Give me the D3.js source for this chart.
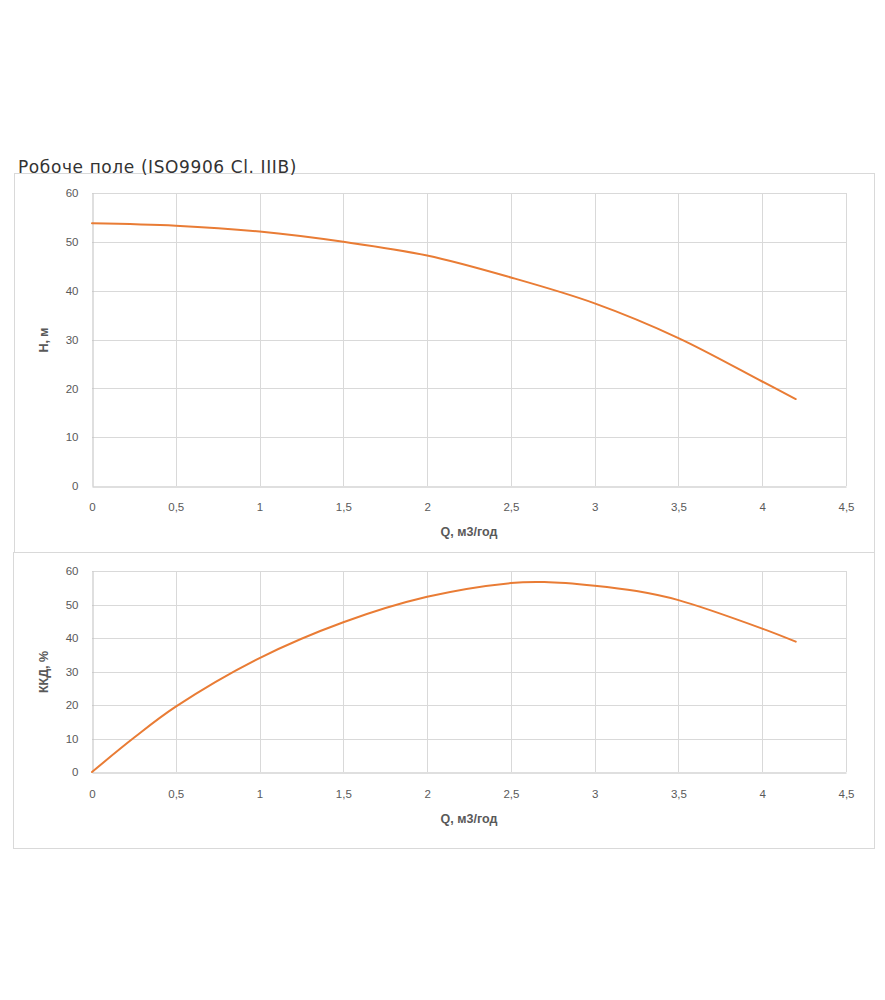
<!DOCTYPE html>
<html>
<head>
<meta charset="utf-8">
<script src="https://cdn.jsdelivr.net/npm/d3@7"></script>
<style>
  body { margin: 0; background: #fff; }
  .tick text { font-family: "Liberation Sans Narrow", "Liberation Sans", Arial, sans-serif; font-size: 11.5px; fill: #595959; }
  .axis-label { font-family: "Liberation Sans Narrow", "Liberation Sans", Arial, sans-serif; font-size: 12.5px; font-weight: bold; fill: #595959; }
</style>
</head>
<body>
<div id="chart-area"></div>
<script>
// head curve H(Q)
var flowH = [0, 0.5, 1, 1.5, 2, 2.5, 3, 3.5, 4, 4.2];
var head = [53.8, 53.3, 52.1, 50.0, 47.2, 42.7, 37.4, 30.3, 21.4, 17.8];

// efficiency curve
var flowE = [0, 0.25, 0.5, 1, 1.5, 2, 2.5, 2.7, 3, 3.25, 3.5, 4, 4.2];
var eff = [0, 10.2, 19.5, 34.0, 44.7, 52.3, 56.4, 56.7, 55.6, 54.0, 51.3, 42.8, 38.9];

var xTicks = [0, 0.5, 1, 1.5, 2, 2.5, 3, 3.5, 4, 4.5];
var yTicks = [0, 10, 20, 30, 40, 50, 60];

var title = "Робоче поле (ISO9906 Cl. IIIB)";
var xTitle = "Q, м3/год";

var svg = d3.select("#chart-area")
    .append("svg")
    .attr("width", 885)
    .attr("height", 1000);

var fmt = function(d) { return String(d).replace(".", ","); };

function drawPanel(opts) {
    // outer frame
    svg.append("rect")
        .attr("x", opts.frame[0] + 0.5)
        .attr("y", opts.frame[1] + 0.5)
        .attr("width", opts.frame[2])
        .attr("height", opts.frame[3])
        .attr("fill", "none")
        .attr("stroke", "#d9d9d9");

    var x = d3.scaleLinear().domain([0, 4.5]).range([opts.left, opts.right]);
    var y = d3.scaleLinear().domain([0, 60]).range([opts.bottom, opts.top]);

    var g = svg.append("g");

    // gridlines
    g.selectAll(".vgrid").data(xTicks.slice(1))
        .enter().append("line")
        .attr("x1", function(d) { return Math.round(x(d)) + 0.5; })
        .attr("x2", function(d) { return Math.round(x(d)) + 0.5; })
        .attr("y1", opts.top)
        .attr("y2", opts.bottom)
        .attr("stroke", "#d9d9d9");

    g.selectAll(".hgrid").data(yTicks.slice(1))
        .enter().append("line")
        .attr("x1", opts.left)
        .attr("x2", opts.right)
        .attr("y1", function(d) { return Math.round(y(d)) + 0.5; })
        .attr("y2", function(d) { return Math.round(y(d)) + 0.5; })
        .attr("stroke", "#d9d9d9");

    var xAxis = g.append("g")
        .attr("transform", "translate(0," + (Math.round(opts.bottom) + 0.5) + ")")
        .call(d3.axisBottom(x).tickValues(xTicks).tickFormat(fmt).tickSize(0).tickPadding(opts.xPad));
    xAxis.select(".domain").attr("stroke", "#bfbfbf");

    var yAxis = g.append("g")
        .attr("transform", "translate(" + (Math.round(opts.left) + 0.5) + ",0)")
        .call(d3.axisLeft(y).tickValues(yTicks).tickSize(0).tickPadding(14));
    yAxis.select(".domain").attr("stroke", "#bfbfbf");

    g.append("text")
        .attr("class", "axis-label")
        .attr("x", (opts.left + opts.right) / 2)
        .attr("y", opts.xTitleY)
        .attr("text-anchor", "middle")
        .text(xTitle);

    g.append("text")
        .attr("class", "axis-label")
        .attr("transform", "translate(48," + opts.yTitleY + ") rotate(-90)")
        .attr("text-anchor", "middle")
        .text(opts.yTitle);

    var line = d3.line()
        .x(function(d) { return x(d[0]); })
        .y(function(d) { return y(d[1]); })
        .curve(d3.curveCatmullRom);

    g.append("path")
        .datum(d3.zip(opts.xs, opts.ys))
        .attr("fill", "none")
        .attr("stroke", "#e97c35")
        .attr("stroke-width", 2)
        .attr("stroke-linecap", "round")
        .attr("d", line);
}

drawPanel({
    frame: [14, 173, 860, 379],
    left: 92, right: 846, top: 193, bottom: 486,
    xPad: 16, xTitleY: 536, yTitle: "H, м", yTitleY: 340,
    xs: flowH, ys: head
});

drawPanel({
    frame: [13, 552, 861, 296],
    left: 92, right: 846, top: 571, bottom: 772,
    xPad: 17, xTitleY: 823, yTitle: "ККД, %", yTitleY: 672,
    xs: flowE, ys: eff
});

svg.append("text")
    .attr("x", 18)
    .attr("y", 173)
    .attr("font-family", "DejaVu Sans, Verdana, sans-serif")
    .attr("font-size", "17px")
    .attr("letter-spacing", "0.6px")
    .attr("fill", "#333")
    .text(title);
</script>
</body>
</html>
